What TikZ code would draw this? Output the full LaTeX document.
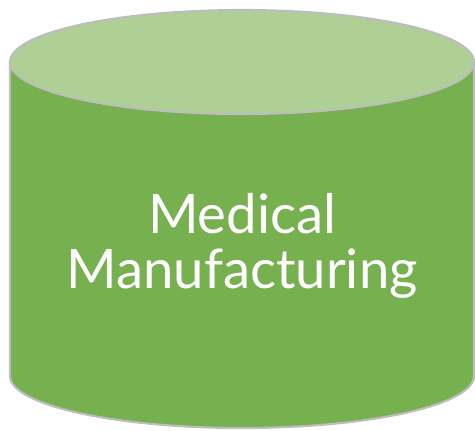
\documentclass[tikz,border=0pt]{standalone}
\usepackage{fontspec}
\setmainfont{Lato}
\definecolor{bodygreen}{HTML}{77B04F}
\definecolor{lidgreen}{HTML}{AED095}
\definecolor{rimgray}{HTML}{BDBDBD}

\begin{document}
\begin{tikzpicture}[
    x=0.02cm, y=-0.02cm,
    body/.style={fill=bodygreen, draw=rimgray, line width=1.2pt},
    lid/.style={fill=lidgreen, draw=rimgray, line width=1.2pt},
    caption/.style={text=white, align=center, font=\fontsize{31}{31.5}\selectfont}
]
    \useasboundingbox (0,0) rectangle (475,430);

    % cylinder wall and bottom
    \draw[body] (10,62) -- (10,376)
        arc[start angle=180, end angle=0, x radius=232, y radius=52]
        -- (474,62) -- cycle;
    % top face
    \draw[lid] (242,62) ellipse[x radius=232, y radius=52];

    \node[caption] (label) at (242,246) {Medical\\Manufacturing};
\end{tikzpicture}
\end{document}
